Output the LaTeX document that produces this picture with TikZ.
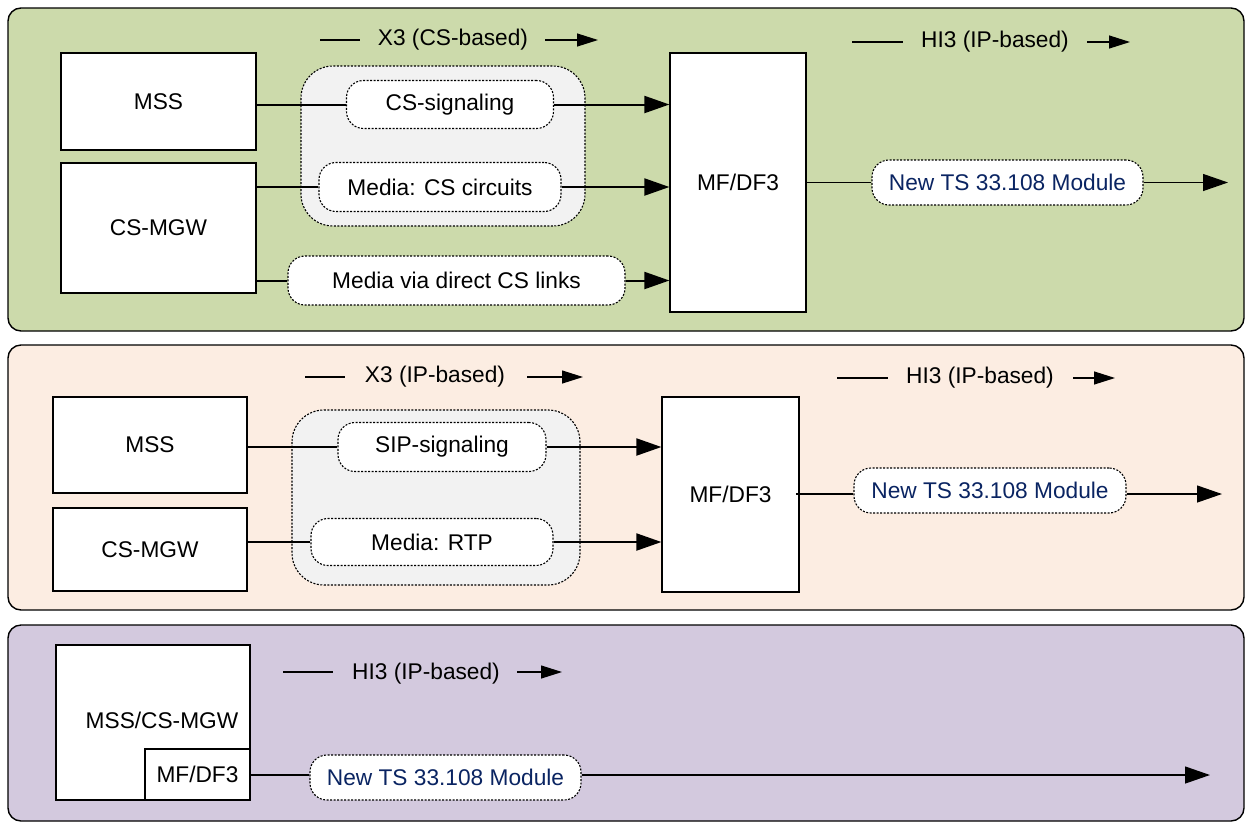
\documentclass[tikz,border=0pt]{standalone}
\usepackage{fontspec}
\setmainfont{Liberation Sans}
\usetikzlibrary{arrows.meta}
\definecolor{pgreen}{HTML}{CCDAAB}
\definecolor{ppeach}{HTML}{FCEDE2}
\definecolor{plilac}{HTML}{D3C9DE}
\definecolor{grpgray}{HTML}{F2F2F2}
\definecolor{navy}{HTML}{0A2462}
\begin{document}
\begin{tikzpicture}[x=1pt,y=-1pt,
  font=\fontsize{22.7}{26}\selectfont,
  panel/.style={draw=black, line width=1.4pt, rounded corners=13pt},
  box/.style={draw=black, line width=1.2pt, fill=white, inner sep=0pt},
  pill/.style={draw=black, dash pattern=on 2pt off 1.5pt, line width=1.1pt, fill=white, rounded corners=17pt, inner sep=0pt},
  grp/.style={draw=black, dash pattern=on 2pt off 1.5pt, line width=1.1pt, fill=grpgray, rounded corners=32pt},
  link/.style={line width=2pt},
  thin link/.style={line width=1.2pt},
  arr/.style={-{Triangle[length=25pt,width=17pt]}},
  harr/.style={line width=1.2pt, -{Triangle[length=21pt,width=13pt]}},
  lbl/.style={inner sep=0pt},
  mod/.style={text=navy}
]
\useasboundingbox (0,0) rectangle (1245,823);

% ---------- panels ----------
\path[panel, fill=pgreen] (8,8) rectangle (1244,331);
\path[panel, fill=ppeach] (8,345) rectangle (1244,610);
\path[panel, fill=plilac] (8,625) rectangle (1244,821);

% ================= panel 1 =================
\node[box, minimum width=195pt, minimum height=97pt] (mss1) at (158.5,101.5) {MSS};
\node[box, minimum width=195pt, minimum height=130pt] (mgw1) at (158.5,228) {CS-MGW};
\path[grp] (301,66) rectangle (585,226);
\node[pill, minimum width=207pt, minimum height=48pt] (sig1) at (450,104.5) {CS-signaling};
\node[pill, minimum width=242pt, minimum height=49pt] (cir1) at (440,187) {Media: CS circuits};
\node[pill, minimum width=337pt, minimum height=49pt] (dir1) at (456.5,280.5) {Media via direct CS links};
\node[box, minimum width=136pt, minimum height=259pt] (mf1) at (738,182.5) {MF/DF3};
\node[pill, mod, minimum width=271pt, minimum height=45pt] (mod1) at (1007.5,182.5) {New TS 33.108 Module};
\coordinate (end1) at (1228,182.5);

\draw[link] (mss1.east |- sig1.west) -- (sig1.west);
\draw[link, arr] (sig1.east) -- (mf1.west |- sig1.east);
\draw[link] (mgw1.east |- cir1.west) -- (cir1.west);
\draw[link, arr] (cir1.east) -- (mf1.west |- cir1.east);
\draw[link] (mgw1.east |- dir1.west) -- (dir1.west);
\draw[link, arr] (dir1.east) -- (mf1.west |- dir1.east);
\draw[thin link] (mf1.east |- mod1.west) -- (mod1.west);
\draw[thin link, arr] (mod1.east) -- (end1);

% headers
\node[lbl] (h1a) at (453,40) {X3 (CS-based)};
\coordinate (h1a1) at (320,40); \coordinate (h1a2) at (360,40);
\coordinate (h1a3) at (545,40); \coordinate (h1a4) at (598,40);
\draw[thin link] (h1a1) -- (h1a2);
\draw[harr] (h1a3) -- (h1a4);
\node[lbl] (h1b) at (995,42) {HI3 (IP-based)};
\coordinate (h1b1) at (852,42); \coordinate (h1b2) at (903,42);
\coordinate (h1b3) at (1087,42); \coordinate (h1b4) at (1130,42);
\draw[thin link] (h1b1) -- (h1b2);
\draw[harr] (h1b3) -- (h1b4);

% ================= panel 2 =================
\node[box, minimum width=194pt, minimum height=96pt] (mss2) at (150,445) {MSS};
\node[box, minimum width=194pt, minimum height=83pt] (mgw2) at (150,549.5) {CS-MGW};
\path[grp] (292,410) rectangle (580,585);
\node[pill, minimum width=208pt, minimum height=49pt] (sig2) at (442,447) {SIP-signaling};
\node[pill, minimum width=242pt, minimum height=47pt] (rtp2) at (432,542) {Media: RTP};
\node[box, minimum width=137pt, minimum height=195pt] (mf2) at (730.5,494.5) {MF/DF3};
\node[pill, mod, minimum width=272pt, minimum height=45pt] (mod2) at (990,490.5) {New TS 33.108 Module};
\coordinate (mf2out) at (796,494);
\coordinate (end2) at (1222,494);

\draw[link] (mss2.east |- sig2.east) -- (sig2.west);
\draw[link, arr] (sig2.east) -- (mf2.west |- sig2.east);
\draw[link] (mgw2.east |- rtp2.east) -- (rtp2.west);
\draw[link, arr] (rtp2.east) -- (mf2.west |- rtp2.east);
\draw[thin link] (mf2out) -- (mod2.west |- end2);
\draw[thin link, arr] (mod2.east |- end2) -- (end2);

\node[lbl] (h2a) at (435,377) {X3 (IP-based)};
\coordinate (h2a1) at (305,377); \coordinate (h2a2) at (345,377);
\coordinate (h2a3) at (527,377); \coordinate (h2a4) at (583,377);
\draw[thin link] (h2a1) -- (h2a2);
\draw[harr] (h2a3) -- (h2a4);
\node[lbl] (h2b) at (980,378) {HI3 (IP-based)};
\coordinate (h2b1) at (837,378); \coordinate (h2b2) at (888,378);
\coordinate (h2b3) at (1073,378); \coordinate (h2b4) at (1115,378);
\draw[thin link] (h2b1) -- (h2b2);
\draw[harr] (h2b3) -- (h2b4);

% ================= panel 3 =================
\node[box, minimum width=194pt, minimum height=155pt] (mss3) at (153,722.5) {};
\node[lbl] (mss3t) at (162,720) {MSS/CS-MGW};
\node[box, minimum width=105pt, minimum height=51pt] (mf3) at (197.5,774.5) {MF/DF3};
\node[pill, mod, minimum width=271pt, minimum height=45pt] (mod3) at (445.5,777.5) {New TS 33.108 Module};
\coordinate (end3) at (1210,775);
\draw[thin link] (mf3.east |- end3) -- (mod3.west |- end3);
\draw[thin link, arr] (mod3.east |- end3) -- (end3);

\node[lbl] (h3) at (426,674) {HI3 (IP-based)};
\coordinate (h31) at (283,672); \coordinate (h32) at (333,672);
\coordinate (h33) at (517,672); \coordinate (h34) at (562,672);
\draw[thin link] (h31) -- (h32);
\draw[harr] (h33) -- (h34);
\end{tikzpicture}
\end{document}
